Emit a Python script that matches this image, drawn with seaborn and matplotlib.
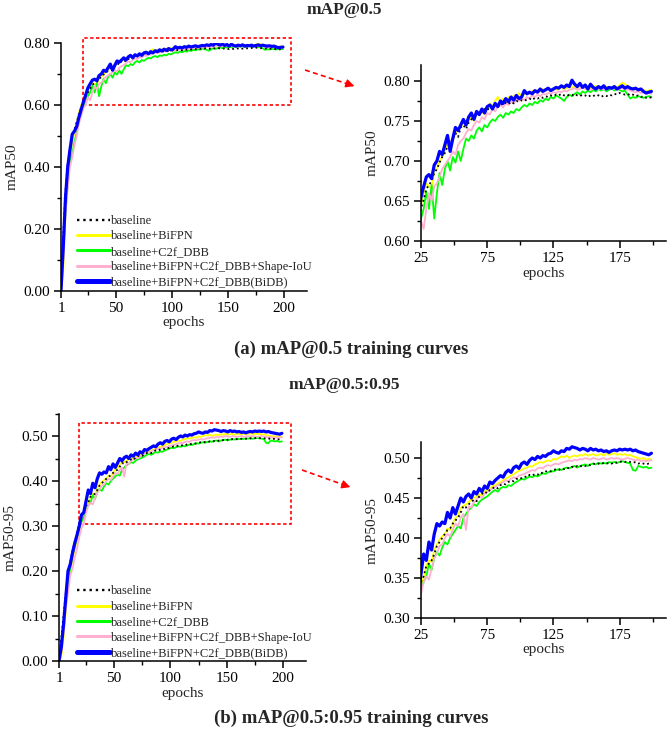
import numpy as np
import pandas as pd
import matplotlib
matplotlib.use("Agg")
import matplotlib.pyplot as plt
import seaborn as sns
from matplotlib.lines import Line2D
from matplotlib.patches import Rectangle, FancyArrowPatch
from matplotlib.ticker import MultipleLocator, FormatStrFormatter

# ---------------- data (epochs 1,3,5,...,199) ----------------
epochs = list(range(1, 200, 2))

models = ["baseline", "baseline+BiFPN", "baseline+C2f_DBB",
          "baseline+BiFPN+C2f_DBB+Shape-IoU", "baseline+BiFPN+C2f_DBB(BiDB)"]

map50_baseline = [
    0.000, 0.180, 0.320, 0.410, 0.460, 0.500, 0.520, 0.545, 0.570, 0.590,
    0.612, 0.628, 0.640, 0.652, 0.665, 0.670, 0.675, 0.685, 0.690, 0.698,
    0.705, 0.710, 0.718, 0.722, 0.728, 0.735, 0.730, 0.742, 0.745, 0.740,
    0.748, 0.752, 0.755, 0.760, 0.758, 0.762, 0.765, 0.763, 0.768, 0.766,
    0.770, 0.768, 0.772, 0.770, 0.773, 0.771, 0.774, 0.772, 0.775, 0.774,
    0.776, 0.775, 0.777, 0.778, 0.776, 0.779, 0.778, 0.780, 0.779, 0.781,
    0.780, 0.782, 0.781, 0.783, 0.782, 0.784, 0.782, 0.781, 0.783, 0.782,
    0.784, 0.782, 0.781, 0.783, 0.782, 0.780, 0.782, 0.781, 0.783, 0.782,
    0.780, 0.782, 0.781, 0.783, 0.782, 0.784, 0.783, 0.785, 0.784, 0.783,
    0.784, 0.782, 0.783, 0.781, 0.782, 0.780, 0.781, 0.779, 0.780, 0.779]
map50_bifpn = [
    0.000, 0.060, 0.240, 0.350, 0.430, 0.480, 0.510, 0.540, 0.575, 0.600,
    0.605, 0.620, 0.645, 0.660, 0.672, 0.668, 0.665, 0.688, 0.690, 0.700,
    0.705, 0.712, 0.722, 0.715, 0.725, 0.735, 0.740, 0.742, 0.748, 0.745,
    0.750, 0.755, 0.750, 0.758, 0.760, 0.762, 0.758, 0.765, 0.772, 0.768,
    0.775, 0.780, 0.774, 0.778, 0.776, 0.780, 0.777, 0.782, 0.780, 0.785,
    0.780, 0.784, 0.786, 0.784, 0.788, 0.786, 0.789, 0.787, 0.790, 0.788,
    0.790, 0.788, 0.791, 0.789, 0.790, 0.792, 0.790, 0.791, 0.793, 0.792,
    0.793, 0.791, 0.794, 0.792, 0.790, 0.793, 0.791, 0.792, 0.794, 0.791,
    0.792, 0.790, 0.793, 0.791, 0.792, 0.794, 0.792, 0.795, 0.798, 0.796,
    0.794, 0.792, 0.791, 0.789, 0.790, 0.788, 0.789, 0.787, 0.788, 0.789]
map50_c2f = [
    0.000, 0.120, 0.260, 0.340, 0.420, 0.440, 0.480, 0.510, 0.545, 0.570,
    0.595, 0.610, 0.628, 0.640, 0.662, 0.640, 0.670, 0.628, 0.660, 0.685,
    0.670, 0.690, 0.700, 0.688, 0.705, 0.698, 0.712, 0.700, 0.715, 0.728,
    0.725, 0.732, 0.728, 0.738, 0.742, 0.737, 0.745, 0.742, 0.748, 0.752,
    0.750, 0.755, 0.758, 0.754, 0.760, 0.758, 0.762, 0.760, 0.765, 0.763,
    0.767, 0.770, 0.768, 0.772, 0.770, 0.774, 0.772, 0.776, 0.774, 0.778,
    0.776, 0.780, 0.778, 0.782, 0.780, 0.778, 0.775, 0.780, 0.783, 0.781,
    0.784, 0.786, 0.783, 0.787, 0.785, 0.788, 0.786, 0.789, 0.787, 0.790,
    0.788, 0.790, 0.787, 0.789, 0.791, 0.788, 0.790, 0.789, 0.787, 0.788,
    0.783, 0.778, 0.780, 0.779, 0.781, 0.780, 0.779, 0.780, 0.781, 0.780]
map50_shape = [
    0.000, 0.100, 0.250, 0.330, 0.400, 0.430, 0.470, 0.500, 0.540, 0.565,
    0.590, 0.600, 0.625, 0.615, 0.640, 0.660, 0.650, 0.668, 0.672, 0.680,
    0.690, 0.695, 0.700, 0.705, 0.712, 0.708, 0.720, 0.725, 0.728, 0.735,
    0.740, 0.738, 0.745, 0.750, 0.748, 0.755, 0.752, 0.760, 0.758, 0.765,
    0.762, 0.768, 0.770, 0.767, 0.772, 0.770, 0.775, 0.772, 0.777, 0.775,
    0.778, 0.776, 0.780, 0.778, 0.782, 0.780, 0.783, 0.781, 0.784, 0.783,
    0.785, 0.784, 0.786, 0.785, 0.787, 0.786, 0.788, 0.787, 0.789, 0.790,
    0.791, 0.789, 0.790, 0.792, 0.790, 0.791, 0.789, 0.790, 0.792, 0.790,
    0.791, 0.789, 0.790, 0.792, 0.790, 0.791, 0.789, 0.790, 0.791, 0.790,
    0.789, 0.788, 0.787, 0.786, 0.787, 0.785, 0.786, 0.784, 0.785, 0.784]
map50_bidb = [
    0.000, 0.140, 0.300, 0.400, 0.455, 0.505, 0.515, 0.530, 0.560, 0.585,
    0.610, 0.632, 0.655, 0.668, 0.680, 0.683, 0.678, 0.695, 0.700, 0.712,
    0.708, 0.720, 0.732, 0.712, 0.728, 0.742, 0.738, 0.745, 0.752, 0.745,
    0.755, 0.760, 0.752, 0.762, 0.758, 0.765, 0.760, 0.768, 0.770, 0.765,
    0.772, 0.768, 0.775, 0.772, 0.778, 0.774, 0.780, 0.776, 0.782, 0.778,
    0.780, 0.788, 0.784, 0.786, 0.784, 0.788, 0.786, 0.790, 0.787, 0.789,
    0.791, 0.788, 0.790, 0.792, 0.791, 0.794, 0.792, 0.795, 0.793, 0.801,
    0.796, 0.793, 0.797, 0.792, 0.795, 0.790, 0.796, 0.792, 0.790, 0.793,
    0.791, 0.794, 0.790, 0.792, 0.791, 0.793, 0.790, 0.792, 0.794, 0.791,
    0.793, 0.791, 0.790, 0.791, 0.789, 0.790, 0.787, 0.785, 0.786, 0.787]

map5095_baseline = [
    0.000, 0.050, 0.100, 0.150, 0.190, 0.220, 0.245, 0.265, 0.285, 0.305,
    0.320, 0.335, 0.345, 0.352, 0.365, 0.368, 0.372, 0.380, 0.390, 0.395,
    0.400, 0.405, 0.410, 0.412, 0.418, 0.422, 0.425, 0.432, 0.440, 0.438,
    0.442, 0.445, 0.448, 0.446, 0.452, 0.455, 0.458, 0.456, 0.460, 0.462,
    0.464, 0.462, 0.466, 0.468, 0.467, 0.470, 0.472, 0.471, 0.474, 0.473,
    0.475, 0.477, 0.476, 0.479, 0.478, 0.480, 0.479, 0.482, 0.481, 0.483,
    0.484, 0.483, 0.485, 0.486, 0.485, 0.487, 0.486, 0.488, 0.487, 0.489,
    0.488, 0.490, 0.489, 0.491, 0.490, 0.492, 0.491, 0.493, 0.492, 0.493,
    0.492, 0.494, 0.493, 0.494, 0.493, 0.495, 0.494, 0.495, 0.496, 0.495,
    0.496, 0.495, 0.494, 0.495, 0.493, 0.494, 0.493, 0.492, 0.493, 0.492]
map5095_bifpn = [
    0.000, 0.010, 0.050, 0.110, 0.170, 0.200, 0.225, 0.250, 0.270, 0.290,
    0.310, 0.320, 0.340, 0.352, 0.365, 0.372, 0.370, 0.385, 0.392, 0.398,
    0.402, 0.405, 0.412, 0.410, 0.418, 0.425, 0.428, 0.438, 0.440, 0.442,
    0.445, 0.448, 0.450, 0.452, 0.455, 0.453, 0.458, 0.460, 0.462, 0.465,
    0.466, 0.468, 0.470, 0.472, 0.474, 0.476, 0.478, 0.480, 0.482, 0.484,
    0.485, 0.487, 0.488, 0.490, 0.489, 0.492, 0.493, 0.495, 0.494, 0.496,
    0.497, 0.496, 0.499, 0.498, 0.500, 0.502, 0.501, 0.503, 0.500, 0.502,
    0.503, 0.502, 0.504, 0.503, 0.505, 0.503, 0.504, 0.505, 0.503, 0.504,
    0.505, 0.503, 0.506, 0.504, 0.505, 0.506, 0.504, 0.505, 0.504, 0.505,
    0.503, 0.504, 0.502, 0.501, 0.500, 0.499, 0.500, 0.498, 0.499, 0.498]
map5095_c2f = [
    0.000, 0.040, 0.090, 0.140, 0.180, 0.205, 0.235, 0.255, 0.275, 0.295,
    0.310, 0.320, 0.338, 0.345, 0.352, 0.368, 0.360, 0.375, 0.382, 0.378,
    0.388, 0.395, 0.392, 0.400, 0.405, 0.410, 0.415, 0.412, 0.425, 0.430,
    0.435, 0.438, 0.442, 0.440, 0.445, 0.448, 0.450, 0.452, 0.455, 0.458,
    0.460, 0.458, 0.462, 0.464, 0.463, 0.466, 0.465, 0.468, 0.470, 0.472,
    0.474, 0.473, 0.475, 0.477, 0.476, 0.478, 0.477, 0.479, 0.481, 0.480,
    0.482, 0.484, 0.483, 0.485, 0.486, 0.485, 0.487, 0.488, 0.487, 0.489,
    0.490, 0.488, 0.490, 0.491, 0.492, 0.490, 0.492, 0.493, 0.492, 0.494,
    0.493, 0.494, 0.493, 0.495, 0.494, 0.495, 0.494, 0.495, 0.496, 0.495,
    0.494, 0.493, 0.485, 0.484, 0.490, 0.489, 0.488, 0.489, 0.487, 0.488]
map5095_shape = [
    0.000, 0.020, 0.060, 0.120, 0.150, 0.190, 0.205, 0.230, 0.250, 0.275,
    0.295, 0.305, 0.330, 0.345, 0.352, 0.348, 0.362, 0.375, 0.380, 0.390,
    0.392, 0.400, 0.405, 0.402, 0.410, 0.418, 0.415, 0.425, 0.430, 0.410,
    0.440, 0.438, 0.445, 0.448, 0.452, 0.450, 0.455, 0.458, 0.460, 0.462,
    0.464, 0.466, 0.468, 0.470, 0.472, 0.471, 0.474, 0.476, 0.475, 0.478,
    0.479, 0.480, 0.482, 0.483, 0.485, 0.484, 0.487, 0.488, 0.487, 0.490,
    0.491, 0.490, 0.492, 0.493, 0.492, 0.494, 0.495, 0.496, 0.497, 0.496,
    0.498, 0.497, 0.499, 0.498, 0.500, 0.499, 0.498, 0.500, 0.499, 0.498,
    0.499, 0.500, 0.498, 0.499, 0.500, 0.499, 0.500, 0.499, 0.498, 0.499,
    0.500, 0.499, 0.498, 0.497, 0.498, 0.496, 0.497, 0.496, 0.497, 0.497]
map5095_bidb = [
    0.000, 0.030, 0.080, 0.140, 0.200, 0.215, 0.240, 0.262, 0.280, 0.300,
    0.325, 0.330, 0.355, 0.380, 0.372, 0.395, 0.385, 0.405, 0.418, 0.415,
    0.420, 0.418, 0.432, 0.425, 0.438, 0.430, 0.440, 0.450, 0.445, 0.452,
    0.455, 0.450, 0.458, 0.455, 0.462, 0.458, 0.465, 0.462, 0.470, 0.468,
    0.472, 0.475, 0.478, 0.476, 0.482, 0.485, 0.482, 0.488, 0.490, 0.487,
    0.493, 0.495, 0.492, 0.497, 0.500, 0.498, 0.502, 0.500, 0.503, 0.502,
    0.505, 0.506, 0.509, 0.507, 0.506, 0.509, 0.508, 0.512, 0.511, 0.514,
    0.513, 0.512, 0.510, 0.512, 0.511, 0.509, 0.512, 0.510, 0.511, 0.509,
    0.510, 0.508, 0.509, 0.507, 0.509, 0.510, 0.509, 0.511, 0.510, 0.511,
    0.510, 0.511, 0.509, 0.510, 0.508, 0.507, 0.506, 0.505, 0.504, 0.506]

map50_series = [map50_baseline, map50_bifpn, map50_c2f, map50_shape, map50_bidb]
map5095_series = [map5095_baseline, map5095_bifpn, map5095_c2f, map5095_shape, map5095_bidb]

# ---------------- styling ----------------
colors = ["black", "#FFFF00", "#00FF00", "#FFB0D0", "#0000FF"]
lws = [1.3, 1.3, 1.3, 1.3, 2.3]
lss = [":", "-", "-", "-", "-"]
leg_lws = [1.7, 2.2, 2.2, 2.2, 3.6]
draw_order = [1, 2, 3, 0, 4]

sns.set_style("ticks")
plt.rcParams["font.family"] = ["Liberation Serif", "DejaVu Serif"]
plt.rcParams["axes.linewidth"] = 1.1
plt.rcParams["xtick.major.width"] = 1.1
plt.rcParams["ytick.major.width"] = 1.1
plt.rcParams["xtick.minor.width"] = 1.0
plt.rcParams["ytick.minor.width"] = 1.0
plt.rcParams["xtick.color"] = "black"
plt.rcParams["ytick.color"] = "black"
plt.rcParams["axes.edgecolor"] = "black"

W, H = 669, 732
fig = plt.figure(figsize=(W / 100, H / 100), dpi=100)


def fx(px):
    return px / W


def fy(py):
    return 1 - py / H


def make_df(series):
    rows = []
    for m, vals in zip(models, series):
        for e, v in zip(epochs, vals):
            rows.append((e, v, m))
    return pd.DataFrame(rows, columns=["epoch", "value", "model"])


def draw(ax, df):
    for i in draw_order:
        sub = df[df["model"] == models[i]]
        sns.lineplot(data=sub, x="epoch", y="value", ax=ax, color=colors[i],
                     linewidth=lws[i], linestyle=lss[i],
                     legend=False, errorbar=None, sort=False)


def style_axes(ax, xlim, ylim, xticks, xmin, ymaj, ymin, ylabel):
    ax.set_xlim(*xlim)
    ax.set_ylim(*ylim)
    ax.set_xticks(xticks)
    ax.xaxis.set_minor_locator(MultipleLocator(xmin))
    ax.yaxis.set_major_locator(MultipleLocator(ymaj))
    ax.yaxis.set_minor_locator(MultipleLocator(ymin))
    ax.yaxis.set_major_formatter(FormatStrFormatter("%.2f"))
    ax.tick_params(which="major", direction="out", length=5, labelsize=11, pad=3)
    ax.tick_params(which="minor", direction="out", length=3)
    sns.despine(ax=ax)
    ax.set_xlabel("epochs", fontsize=11, labelpad=1)
    ax.set_ylabel(ylabel, fontsize=11, labelpad=3)


def legend(ax, top_px):
    handles = [Line2D([], [], color=colors[i], lw=leg_lws[i], linestyle=lss[i])
               for i in range(5)]
    ax.legend(handles, models, loc="upper left",
              bbox_to_anchor=(fx(77), fy(top_px)), bbox_transform=fig.transFigure,
              frameon=False, fontsize=9, handlelength=2.6, handletextpad=0.15,
              labelspacing=0.27, borderpad=0, borderaxespad=0)


def arrow(x0, y0, x1, y1):
    fig.add_artist(Line2D([fx(x0), fx(x1 - 4)], [fy(y0), fy(y1 - 1.3)],
                          transform=fig.transFigure, color="red", lw=1.2,
                          linestyle=(0, (3, 2))))
    fig.add_artist(FancyArrowPatch(
        (fx(x1 - 8), fy(y1 - 2.7)), (fx(x1), fy(y1)), transform=fig.transFigure,
        arrowstyle="-|>,head_length=5,head_width=2.5", color="red", lw=1.0,
        mutation_scale=1))


df50 = make_df(map50_series)
df5095 = make_df(map5095_series)

# ---- top-left: mAP50 full ----
ax1 = fig.add_axes([fx(61), fy(290.5), fx(306.5) - fx(61), (290.5 - 43) / H])
draw(ax1, df50)
style_axes(ax1, (1, 220), (0, 0.80), [1, 50, 100, 150, 200], 25, 0.20, 0.10, "mAP50")
ax1.add_patch(Rectangle((20.5, 0.60), 186, 0.215, fill=False, edgecolor="red",
                        lw=1.2, linestyle=(0, (2, 1.5)), clip_on=False))
legend(ax1, 215)

# ---- top-right: mAP50 zoom ----
ax2 = fig.add_axes([fx(421), fy(241), 245 / W, 176 / H])
draw(ax2, df50)
style_axes(ax2, (25, 210), (0.60, 0.82), [25, 75, 125, 175], 25, 0.05, 0.025, "mAP50")

# ---- bottom-left: mAP50-95 full ----
ax3 = fig.add_axes([fx(59), fy(661), fx(305.5) - fx(59), (661 - 413.5) / H])
draw(ax3, df5095)
style_axes(ax3, (1, 220), (0, 0.55), [1, 50, 100, 150, 200], 25, 0.10, 0.05, "mAP50-95")
ax3.add_patch(Rectangle((19, 0.304), 188, 0.225, fill=False, edgecolor="red",
                        lw=1.2, linestyle=(0, (2, 1.5)), clip_on=False))
legend(ax3, 585.5)

# ---- bottom-right: mAP50-95 zoom ----
ax4 = fig.add_axes([fx(421), fy(618), 245 / W, 176 / H])
draw(ax4, df5095)
style_axes(ax4, (25, 210), (0.30, 0.52), [25, 75, 125, 175], 25, 0.05, 0.025, "mAP50-95")

arrow(305, 70, 357, 87)
arrow(302, 470, 353, 488)

fig.text(fx(344), fy(10), "mAP@0.5", ha="center", va="center",
         fontsize=12.5, fontweight="bold")
fig.text(fx(351), fy(349), "(a) mAP@0.5 training curves", ha="center",
         va="center", fontsize=13.5, fontweight="bold")
fig.text(fx(344), fy(385), "mAP@0.5:0.95", ha="center", va="center",
         fontsize=12.5, fontweight="bold")
fig.text(fx(351), fy(718), "(b) mAP@0.5:0.95 training curves", ha="center",
         va="center", fontsize=13.5, fontweight="bold")

fig.savefig("out.png", dpi=100)
